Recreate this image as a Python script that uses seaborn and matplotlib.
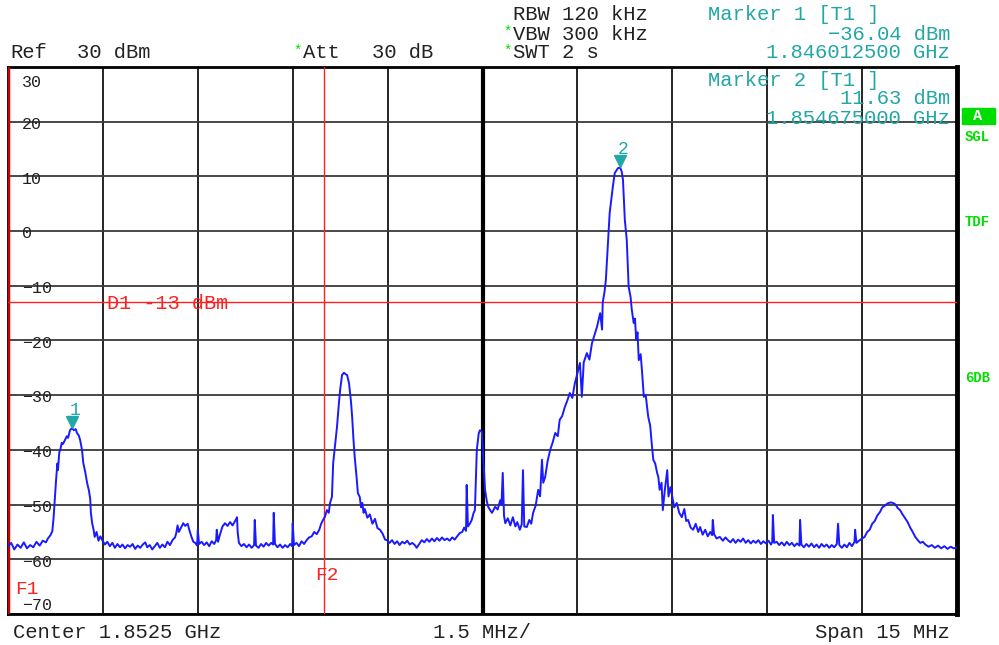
import numpy as np
import pandas as pd
import matplotlib
matplotlib.use("Agg")
import matplotlib.pyplot as plt
import seaborn as sns

# Spectrum trace, frequency offset from 1.845 GHz (MHz) and level (dBm)
seg_carrier1 = [
    (0.00, -57.6), (0.05, -57.0), (0.10, -58.2), (0.15, -57.3), (0.20, -57.9), (0.25, -56.9),
    (0.30, -58.0), (0.35, -57.4), (0.40, -57.8), (0.45, -56.8), (0.50, -57.5), (0.55, -56.6),
    (0.60, -56.9), (0.63, -56.2), (0.67, -55.6), (0.70, -54.9), (0.72, -52.5), (0.74, -49.0),
    (0.76, -45.5), (0.78, -42.5), (0.79, -43.7), (0.81, -40.5), (0.83, -39.8), (0.85, -38.7),
    (0.87, -38.9), (0.90, -38.2), (0.93, -37.5), (0.95, -37.8), (0.98, -36.4), (1.01, -36.0),
    (1.04, -36.4), (1.07, -36.2), (1.09, -36.9), (1.12, -37.4), (1.14, -38.2), (1.17, -40.0),
    (1.19, -42.4), (1.22, -44.0), (1.25, -46.0), (1.28, -47.5), (1.30, -49.0), (1.31, -51.5),
    (1.33, -53.4), (1.35, -54.4), (1.37, -55.9), (1.40, -55.0), (1.43, -56.6), (1.46, -55.8),
    (1.49, -56.5), (1.53, -57.3), (1.57, -56.8), (1.61, -57.6), (1.65, -57.0), (1.69, -57.9),
    (1.73, -57.2), (1.77, -57.8), (1.81, -57.3), (1.85, -58.0), (1.89, -57.4), (1.93, -57.7),
]
seg_floor_left = [
    (1.97, -57.2), (2.01, -58.1), (2.05, -57.5), (2.09, -57.9), (2.13, -57.3), (2.17, -56.9),
    (2.20, -57.8), (2.24, -57.4), (2.28, -58.2), (2.32, -57.6), (2.36, -57.0), (2.40, -57.9),
    (2.44, -57.3), (2.48, -57.8), (2.52, -56.8), (2.56, -57.4), (2.60, -56.5), (2.64, -56.0),
    (2.66, -55.2), (2.68, -53.8), (2.70, -55.0), (2.73, -54.3), (2.77, -53.4), (2.80, -53.9),
    (2.84, -53.5), (2.87, -54.8), (2.90, -55.9), (2.93, -56.8), (2.96, -57.0), (2.99, -57.5),
    (3.00, -54.6), (3.02, -57.2), (3.06, -56.8), (3.10, -57.4), (3.14, -56.9), (3.18, -57.6),
    (3.22, -56.7), (3.26, -57.2), (3.29, -56.5), (3.30, -54.6), (3.32, -56.8), (3.35, -55.5),
    (3.39, -54.0), (3.43, -53.4), (3.47, -53.9), (3.51, -53.2), (3.55, -53.8), (3.59, -53.0),
    (3.62, -52.3), (3.63, -55.0), (3.65, -57.0), (3.69, -57.6), (3.73, -57.2), (3.77, -57.8),
    (3.81, -57.3), (3.85, -57.9), (3.89, -57.4), (3.90, -52.8), (3.92, -57.5), (3.96, -57.9),
    (4.00, -57.2), (4.04, -57.7), (4.08, -57.0), (4.12, -57.5), (4.16, -57.0), (4.19, -57.3),
    (4.20, -51.5), (4.22, -57.2), (4.26, -57.8), (4.30, -57.3), (4.34, -57.9), (4.38, -57.4),
    (4.42, -57.8), (4.46, -57.2), (4.49, -57.6), (4.50, -53.4), (4.52, -57.4), (4.56, -57.0),
    (4.60, -57.6), (4.64, -56.7), (4.68, -57.2), (4.72, -56.5), (4.76, -56.0), (4.80, -55.8),
    (4.84, -55.0), (4.88, -55.4), (4.92, -54.6), (4.95, -53.5), (4.98, -52.8), (5.01, -52.2),
    (5.04, -51.0), (5.07, -51.5),
]
seg_carrier2 = [
    (5.09, -49.7), (5.12, -48.6), (5.14, -42.4), (5.17, -39.0), (5.20, -35.8), (5.23, -31.5),
    (5.25, -29.0), (5.28, -26.3), (5.31, -25.9), (5.34, -26.2), (5.36, -26.3), (5.39, -27.8),
    (5.42, -31.0), (5.44, -34.0), (5.46, -38.0), (5.48, -41.3), (5.51, -45.0), (5.53, -47.9),
    (5.56, -48.6), (5.58, -50.5), (5.60, -49.7), (5.62, -51.5), (5.64, -50.8), (5.68, -52.4),
    (5.72, -51.8), (5.76, -53.5), (5.80, -52.6), (5.84, -54.3), (5.88, -54.6), (5.92, -55.3),
    (5.96, -56.4), (5.99, -56.5), (6.03, -57.0), (6.07, -56.5), (6.11, -57.2), (6.15, -56.7),
    (6.19, -57.4), (6.23, -56.8), (6.27, -57.1), (6.31, -56.6), (6.35, -57.3), (6.39, -57.0),
    (6.43, -57.4), (6.46, -57.9), (6.50, -57.2), (6.54, -56.5), (6.58, -56.9), (6.62, -56.3),
    (6.66, -56.8), (6.70, -56.2), (6.74, -56.7), (6.78, -56.1), (6.82, -56.6), (6.86, -56.0),
    (6.90, -56.5), (6.94, -56.2), (6.98, -56.6), (7.02, -56.0), (7.06, -56.4), (7.10, -55.8),
    (7.14, -55.2), (7.18, -55.0), (7.21, -54.2), (7.24, -54.8), (7.25, -46.4), (7.27, -54.0),
    (7.30, -53.5), (7.33, -52.8), (7.36, -51.5), (7.38, -51.0), (7.41, -40.0), (7.44, -37.0),
    (7.46, -36.4), (7.49, -36.7), (7.51, -41.0), (7.54, -47.3), (7.57, -49.5), (7.59, -50.4),
    (7.62, -51.0), (7.65, -51.5), (7.70, -50.4),
]
seg_main = [
    (7.74, -50.9), (7.78, -49.2), (7.80, -50.0), (7.82, -44.2), (7.84, -52.0), (7.86, -53.4),
    (7.90, -52.5), (7.94, -53.8), (7.98, -52.3), (8.02, -54.0), (8.05, -53.2), (8.09, -54.6),
    (8.12, -53.6), (8.14, -43.7), (8.16, -54.0), (8.20, -54.1), (8.24, -52.8), (8.27, -53.5),
    (8.30, -51.5), (8.34, -50.2), (8.38, -47.3), (8.41, -48.5), (8.44, -41.8), (8.46, -46.0),
    (8.49, -45.0), (8.53, -42.0), (8.57, -40.0), (8.61, -38.6), (8.65, -36.9), (8.69, -37.5),
    (8.72, -34.5), (8.76, -33.8), (8.80, -32.2), (8.84, -31.0), (8.88, -29.6), (8.92, -30.5),
    (8.96, -27.8), (9.00, -26.0), (9.04, -24.1), (9.07, -30.3), (9.10, -24.0), (9.15, -22.3),
    (9.19, -23.5), (9.23, -20.5), (9.27, -19.0), (9.31, -17.5), (9.34, -16.0), (9.36, -15.0),
    (9.39, -18.0), (9.40, -13.1), (9.43, -11.0), (9.45, -8.9), (9.48, -2.8), (9.51, 3.3),
    (9.56, 8.1), (9.59, 10.6), (9.64, 11.5), (9.675, 11.63), (9.70, 10.9), (9.72, 9.4),
    (9.75, 2.0), (9.78, -1.6), (9.81, -10.2), (9.84, -12.0), (9.86, -14.4), (9.89, -16.8),
    (9.91, -16.0), (9.93, -19.9), (9.95, -18.5), (9.97, -23.6), (10.00, -22.5), (10.02, -25.4),
    (10.05, -30.3), (10.08, -30.0), (10.12, -34.0), (10.15, -35.5), (10.18, -39.5), (10.20, -41.8),
    (10.23, -42.5), (10.26, -44.2), (10.28, -45.0), (10.30, -47.3), (10.33, -46.0), (10.35, -51.0),
    (10.38, -47.5), (10.42, -43.7), (10.44, -48.5), (10.47, -46.8), (10.49, -47.9), (10.53, -50.5),
    (10.57, -49.7), (10.61, -51.5), (10.65, -52.3), (10.69, -50.8), (10.72, -53.0), (10.75, -52.8),
    (10.79, -54.2), (10.83, -54.6), (10.87, -53.5), (10.91, -55.0), (10.94, -54.1), (10.98, -55.5),
    (11.02, -54.6), (11.06, -55.8), (11.10, -55.0), (11.13, -55.6), (11.14, -52.8), (11.16, -55.4),
    (11.20, -56.2), (11.25, -55.9), (11.30, -56.6), (11.34, -56.0), (11.38, -56.5),
]
seg_floor_right = [
    (11.42, -56.9), (11.46, -56.3), (11.50, -57.0), (11.54, -56.4), (11.58, -56.8), (11.62, -56.2),
    (11.66, -57.0), (11.70, -56.5), (11.74, -57.1), (11.78, -56.6), (11.82, -57.0), (11.86, -56.5),
    (11.90, -57.2), (11.94, -56.7), (11.98, -57.1), (12.02, -56.6), (12.06, -57.3), (12.08, -56.8),
    (12.09, -51.9), (12.11, -57.0), (12.15, -56.8), (12.19, -57.4), (12.23, -56.9), (12.27, -57.5),
    (12.31, -56.8), (12.35, -57.4), (12.39, -57.0), (12.43, -57.6), (12.47, -57.1), (12.51, -57.5),
    (12.52, -52.8), (12.54, -57.3), (12.58, -57.8), (12.62, -57.2), (12.66, -57.7), (12.70, -57.1),
    (12.74, -57.8), (12.78, -57.3), (12.82, -57.9), (12.86, -57.2), (12.90, -57.7), (12.94, -57.3),
    (12.98, -57.9), (13.02, -57.4), (13.06, -57.8), (13.10, -57.2), (13.12, -53.5), (13.14, -57.4),
    (13.18, -57.9), (13.22, -57.3), (13.26, -57.8), (13.30, -57.0), (13.34, -57.6), (13.38, -56.8),
    (13.39, -54.6), (13.41, -57.0), (13.45, -56.6), (13.50, -56.2), (13.54, -55.9), (13.58, -55.0),
    (13.62, -54.6), (13.66, -53.5), (13.70, -53.0), (13.74, -52.0), (13.78, -51.4), (13.82, -50.5),
    (13.86, -50.2), (13.90, -49.8), (13.95, -49.6), (13.99, -49.7), (14.03, -50.0), (14.06, -50.6),
    (14.10, -51.0), (14.14, -51.8), (14.18, -52.5), (14.22, -53.2), (14.26, -54.2), (14.30, -55.0),
    (14.34, -55.9), (14.38, -56.5), (14.42, -57.0), (14.46, -56.8), (14.50, -57.3), (14.55, -57.7),
    (14.60, -57.4), (14.65, -57.9), (14.70, -57.5), (14.75, -58.0), (14.80, -57.6), (14.85, -58.1),
    (14.90, -57.7), (14.95, -58.0), (15.00, -57.8),
]

markers_mhz = [1.0125, 9.675]
markers_dbm = [-36.04, 11.63]
marker_names = ["1", "2"]
y_ticks = [30, 20, 10, 0, -10, -20, -30, -40, -50, -60, -70]
display_line_dbm = -13
f2_mhz = 5.0

trace = pd.DataFrame(seg_carrier1 + seg_floor_left + seg_carrier2 + seg_main + seg_floor_right,
                     columns=["freq", "level"])

sns.set_style("white")
plt.rcParams['font.family'] = ['Liberation Mono', 'DejaVu Sans Mono']

teal = "#22a6a6"
green = "#00dd00"
red = "#ff2020"

fig = plt.figure(figsize=(9.99, 6.45), dpi=100)
ax = fig.add_axes([8 / 999, 31 / 645, 949 / 999, 547 / 645])

sns.lineplot(data=trace, x="freq", y="level", estimator=None, sort=False,
             color="#1a1aff", lw=1.4, ax=ax, zorder=5)

ax.set_xlim(0, 15)
ax.set_ylim(-70, 30)
ax.set_xticks(np.arange(0, 15.01, 1.5))
ax.set_yticks(y_ticks)
ax.tick_params(length=0, labelbottom=False, labelleft=False)
ax.set_xlabel("")
ax.set_ylabel("")
ax.xaxis.grid(True, color="black", lw=1.2)
ax.yaxis.grid(True, color="#3a3a3a", lw=1.3)
ax.axvline(7.5, color="black", lw=3, zorder=3)
for side in ["top", "bottom", "left"]:
    ax.spines[side].set_linewidth(2)
    ax.spines[side].set_color("black")
ax.spines["right"].set_linewidth(3.5)
ax.spines["right"].set_color("black")

# lines F1, F2, D1
ax.axvline(0, color="#cc0000", lw=2.5, zorder=4)
ax.axvline(f2_mhz, color=red, lw=1, zorder=4)
ax.axhline(display_line_dbm, color=red, lw=1, zorder=4)
ax.text(1.565, display_line_dbm - 0.2, "D1 -13 dBm", color=red, fontsize=14.5, va="center", ha="left", zorder=6)
ax.text(f2_mhz + 0.04, -62.9, "F2", color=red, fontsize=14, va="center", ha="center", zorder=6)
ax.text(0.11, -65.6, "F1", color=red, fontsize=14, va="center", ha="left", zorder=6)

# y labels drawn inside the grid
for v in y_ticks:
    lbl = str(v).replace("-", "\u2212")
    ypos = v - 0.5
    if v == 30:
        ypos = 27.1
    if v == -70:
        ypos = -68.5
    ax.text(0.22, ypos, lbl, fontsize=12, color="#222222", va="center", ha="left", zorder=6)

# markers
for fm, lv, name in zip(markers_mhz, markers_dbm, marker_names):
    ax.plot(fm, lv + 1.1, marker="v", color=teal, ms=8, zorder=7)
    ax.text(fm + 0.05, lv + 3.2, name, color=teal, fontsize=13, ha="center", va="center", zorder=7)


def ftext(x, y, s, size=14.8, **kw):
    fig.text(x / 999, 1 - y / 645, s, va="center", fontsize=size, **kw)


# header texts
ftext(10, 53, "Ref", color="#222222")
ftext(77, 53, "30 dBm", color="#222222")
ftext(293, 51, "*", color=green, size=10)
ftext(303, 53, "Att", color="#222222")
ftext(372, 53, "30 dB", color="#222222")
ftext(513, 14, "RBW 120 kHz", color="#222222")
ftext(503, 32, "*", color=green, size=10)
ftext(513, 34, "VBW 300 kHz", color="#222222")
ftext(503, 51, "*", color=green, size=10)
ftext(513, 53, "SWT 2 s", color="#222222")
ftext(708, 14, "Marker 1 [T1 ]", color=teal)
ftext(950, 34, "\u221236.04 dBm", color=teal, ha="right")
ftext(950, 53, "1.846012500 GHz", color=teal, ha="right")
ftext(708, 80, "Marker 2 [T1 ]", color=teal)
ftext(950, 99, "11.63 dBm", color=teal, ha="right")
ftext(950, 119, "1.854675000 GHz", color=teal, ha="right")
ftext(13, 632, "Center 1.8525 GHz", color="#222222")
ftext(433, 632, "1.5 MHz/", color="#222222")
ftext(950, 632, "Span 15 MHz", color="#222222", ha="right")

# side annotations
fig.patches.append(plt.Rectangle((962 / 999, 1 - 124 / 645), 33 / 999, 16 / 645,
                                 transform=fig.transFigure, color=green, zorder=1))
fig.text(978 / 999, 1 - 116 / 645, "A", color="white", fontsize=11, fontweight="bold", ha="center", va="center")
fig.text(965 / 999, 1 - 137 / 645, "SGL", color=green, fontsize=10, fontweight="bold", va="center")
fig.text(965 / 999, 1 - 222 / 645, "TDF", color=green, fontsize=10, fontweight="bold", va="center")
fig.text(965 / 999, 1 - 378 / 645, "6DB", color=green, fontsize=10, fontweight="bold", va="center")

fig.savefig("out.png", dpi=100, facecolor="white")
